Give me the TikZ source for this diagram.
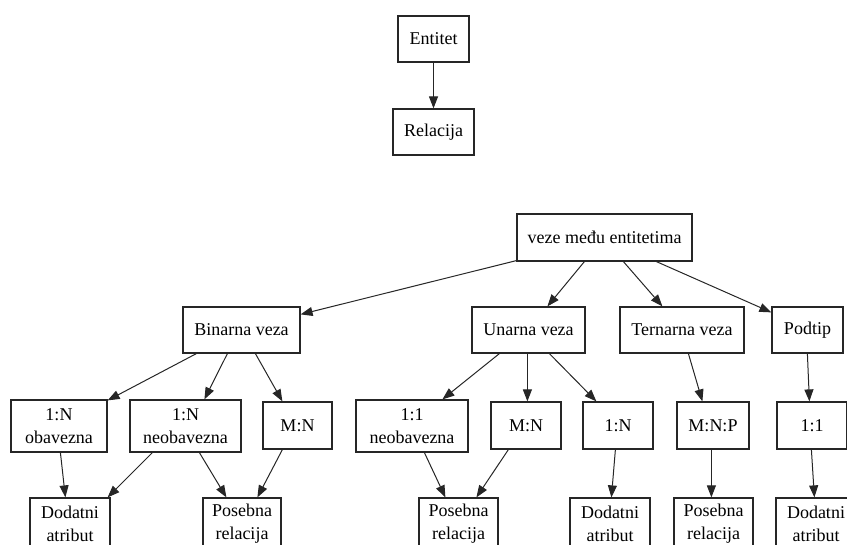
\documentclass[tikz,border=0pt]{standalone}
\usepackage{fontspec}
\setmainfont{Liberation Serif}
\usetikzlibrary{arrows.meta,calc}

\tikzset{
  box/.style={draw=black!85, line width=1.2pt, fill=white, inner sep=0pt,
              align=center, font=\fontsize{18}{23}\selectfont},
  wide/.style={minimum height=46pt},
  tall/.style={minimum height=52pt},
  mid/.style={minimum height=47pt},
  edge/.style={draw=black!85, line width=1pt,
               -{Triangle[length=12pt,width=9pt]}},
}

\begin{document}
\begin{tikzpicture}[x=1pt,y=-1pt]
  \useasboundingbox (0,0) rectangle (847,545);
  \clip (0,0) rectangle (847,545);

  % upper pair
  \node[box,wide,minimum width=71pt] (entitet)  at (433.5,39)  {Entitet};
  \node[box,wide,minimum width=81pt] (relacija) at (433.5,132) {Relacija};

  % root of the relationship tree
  \node[box,mid,minimum width=175pt] (veze) at (604.5,237.5) {veze među entitetima};

  % kinds of relationship
  \node[box,wide,minimum width=117pt] (binarna)  at (241.5,330) {Binarna veza};
  \node[box,wide,minimum width=113pt] (unarna)   at (528.5,330) {Unarna veza};
  \node[box,wide,minimum width=124pt] (ternarna) at (682,330)   {Ternarna veza};
  \node[box,wide,minimum width=71pt]  (podtip)   at (807.5,330) {Podtip};

  % cardinalities
  \node[box,tall,minimum width=96pt]  (binObv)  at (59,426)    {1:N\\obavezna};
  \node[box,tall,minimum width=111pt] (binNeob) at (185.5,426) {1:N\\neobavezna};
  \node[box,mid,minimum width=69pt]   (binMN)   at (297.5,425.5) {M:N};
  \node[box,tall,minimum width=112pt] (unNeob)  at (412,426)   {1:1\\neobavezna};
  \node[box,mid,minimum width=70pt]   (unMN)    at (526,425.5) {M:N};
  \node[box,mid,minimum width=70pt]   (unN)     at (618,425.5) {1:N};
  \node[box,mid,minimum width=72pt]   (terMNP)  at (713,425.5) {M:N:P};
  \node[box,mid,minimum width=70pt]   (podOne)  at (812,425.5) {1:1};

  % resulting realisations
  \node[box,tall,minimum width=80pt] (dodA) at (70,524)    {Dodatni\\atribut};
  \node[box,tall,minimum width=78pt] (posA) at (242,524)   {Posebna\\relacija};
  \node[box,tall,minimum width=79pt] (posB) at (458.5,524) {Posebna\\relacija};
  \node[box,tall,minimum width=80pt] (dodB) at (610,524)   {Dodatni\\atribut};
  \node[box,tall,minimum width=79pt] (posC) at (713.5,524) {Posebna\\relacija};
  \node[box,tall,minimum width=80pt] (dodC) at (816,524)   {Dodatni\\atribut};

  % connectors
  \draw[edge] (entitet.south) -- (relacija.north);

  \draw[edge] ($(veze.south west)+(0,-1)$)  -- ($(binarna.north east)+(0,8)$);
  \draw[edge] ($(veze.south west)+(68,0)$)  -- ($(unarna.north west)+(76,0)$);
  \draw[edge] ($(veze.south west)+(107,0)$) -- ($(ternarna.north west)+(43,0)$);
  \draw[edge] ($(veze.south west)+(140,0)$) -- ($(podtip.north west)+(0,6)$);

  \draw[edge] ($(binarna.south west)+(14,0)$) -- ($(binObv.north east)+(0,1)$);
  \draw[edge] ($(binarna.south west)+(45,0)$) -- ($(binNeob.north west)+(75,0)$);
  \draw[edge] ($(binarna.south west)+(73,0)$) -- ($(binMN.north west)+(20,0)$);

  \draw[edge] ($(unarna.south west)+(28,0)$) -- ($(unNeob.north west)+(87,0)$);
  \draw[edge] ($(unarna.south west)+(56,0)$) -- ($(unMN.north west)+(37,0)$);
  \draw[edge] ($(unarna.south west)+(78,0)$) -- ($(unN.north west)+(14,0)$);

  \draw[edge] ($(ternarna.south west)+(69,0)$) -- ($(terMNP.north west)+(26,0)$);
  \draw[edge] ($(podtip.south west)+(36,0)$)   -- ($(podOne.north west)+(33,0)$);

  \draw[edge] ($(binObv.south west)+(50,0)$)  -- ($(dodA.north west)+(36,0)$);
  \draw[edge] ($(binNeob.south west)+(23,0)$) -- ($(dodA.north east)+(-3,0)$);
  \draw[edge] ($(binNeob.south west)+(70,0)$) -- ($(posA.north west)+(24,0)$);
  \draw[edge] ($(binMN.south west)+(20,0)$)   -- ($(posA.north west)+(55,0)$);

  \draw[edge] ($(unNeob.south west)+(69,0)$) -- ($(posB.north west)+(27,0)$);
  \draw[edge] ($(unMN.south west)+(18,0)$)   -- ($(posB.north west)+(58,0)$);
  \draw[edge] ($(unN.south west)+(33,0)$)    -- ($(dodB.north west)+(42,0)$);

  \draw[edge] ($(terMNP.south west)+(35,0)$) -- ($(posC.north west)+(38,0)$);
  \draw[edge] ($(podOne.south west)+(35,0)$) -- ($(dodC.north west)+(39,0)$);
\end{tikzpicture}
\end{document}
